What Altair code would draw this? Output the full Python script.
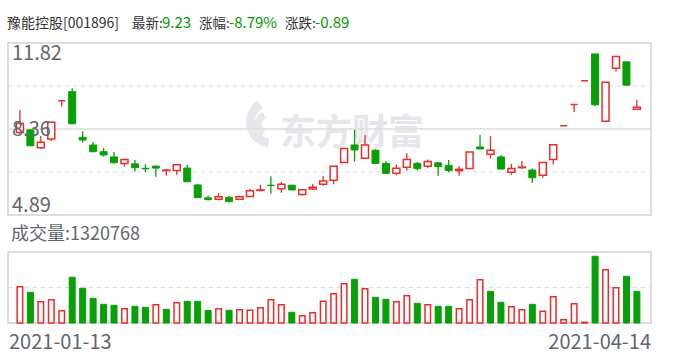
import altair as alt
import numpy as np
import pandas as pd

# ---------------- data ----------------
stock_name = "豫能控股"
stock_code = "001896"
date_labels = ["2021-01-13", "2021-04-14"]

opens = [8.21, 8.32, 7.60, 7.95, 9.49, 9.86, 8.02, 7.71, 7.44, 7.23,
         6.97, 6.95, 6.77, 6.86, 6.68, 6.68, 6.78, 6.10, 5.58, 5.52,
         5.60, 5.52, 5.64, 5.88, 6.09, 5.95, 6.09, 5.72, 5.94, 6.13,
         6.29, 7.01, 7.71, 7.18, 7.50, 6.97, 6.57, 6.81, 6.97, 6.85,
         6.99, 6.89, 6.68, 6.76, 7.63, 7.34, 7.23, 6.61, 6.80, 6.70,
         6.49, 7.13, 8.49, 9.34, 10.30, 11.38, 8.67, 10.80, 11.06, 9.15]
highs = [9.12, 8.32, 8.07, 8.65, 9.49, 10.00, 8.27, 7.83, 7.59, 7.43,
         7.13, 7.11, 6.93, 6.87, 6.73, 6.95, 6.91, 6.14, 5.68, 5.77,
         5.66, 5.67, 5.94, 6.11, 6.45, 6.22, 6.09, 5.93, 6.14, 6.46,
         6.86, 7.57, 8.32, 8.11, 7.54, 7.07, 6.93, 7.38, 7.03, 7.13,
         7.03, 7.11, 6.86, 7.43, 8.11, 8.07, 7.30, 6.95, 7.07, 6.76,
         7.02, 7.74, 8.49, 9.34, 10.30, 11.38, 10.24, 11.29, 11.06, 9.52]
lows = [8.15, 7.68, 7.55, 7.87, 9.25, 8.54, 7.80, 7.42, 7.24, 6.95,
        6.84, 6.64, 6.61, 6.43, 6.47, 6.51, 6.23, 5.58, 5.47, 5.48,
        5.39, 5.49, 5.64, 5.86, 5.75, 5.79, 5.89, 5.68, 5.93, 6.07,
        6.13, 7.01, 7.04, 7.17, 6.97, 6.53, 6.49, 6.68, 6.68, 6.77,
        6.47, 6.61, 6.47, 6.75, 7.54, 7.16, 6.74, 6.51, 6.74, 6.19,
        6.39, 6.92, 8.49, 9.04, 10.30, 9.28, 8.66, 10.66, 10.12, 9.14]
closes = [8.58, 7.68, 7.82, 8.63, 9.49, 8.57, 7.91, 7.44, 7.31, 7.00,
          7.13, 6.80, 6.75, 6.78, 6.70, 6.91, 6.23, 5.59, 5.51, 5.63,
          5.43, 5.63, 5.87, 5.90, 6.08, 6.13, 5.90, 5.91, 6.01, 6.26,
          6.85, 7.57, 7.51, 7.71, 6.97, 6.57, 6.77, 7.13, 6.76, 7.05,
          6.84, 6.68, 6.73, 7.43, 7.55, 7.50, 6.74, 6.76, 6.82, 6.39,
          7.01, 7.72, 8.49, 9.34, 10.30, 9.33, 10.24, 11.28, 10.12, 9.23]
volumes = [1512000, 1279000, 887000, 971000, 512000, 1904000, 1446000, 1029000, 779000, 737000,
           596000, 696000, 654000, 762000, 571000, 846000, 904000, 904000, 529000, 596000,
           529000, 554000, 529000, 637000, 971000, 762000, 446000, 304000, 429000, 904000,
           1221000, 1637000, 1821000, 1429000, 1071000, 987000, 887000, 1137000, 821000, 762000,
           696000, 696000, 596000, 971000, 1804000, 1321000, 862000, 679000, 554000, 779000,
           487000, 1096000, 137000, 804000, 29000, 2779000, 2221000, 1471000, 1946000, 1320768]

price_ticks = [11.82, 8.355, 4.89]
price_tick_labels = ["11.82", "8.36", "4.89"]
volume_axis_max = 2958000

# ---------------- styles ----------------
RED = "#ee2b2b"
GREEN = "#07a007"
GRID = "#dddddd"
FRAME = "#d2d2d6"
LABEL = "#5f6670"
WATER = "#e6e6eb"
FONT = "Noto Sans CJK SC"

df = pd.DataFrame({"i": np.arange(len(closes)), "open": opens, "high": highs,
                   "low": lows, "close": closes, "vol": volumes})
df["dir"] = np.where(df["close"] >= df["open"], "up", "down")
prev = df["close"].shift(1)
df["vdir"] = np.where(prev.isna() | (df["close"] >= prev), "up", "down")

one = pd.DataFrame({"a": [0]})

xs = alt.Scale(domain=[-0.66, 59.87], range=[8, 651], nice=False, zero=False)
ps = alt.Scale(domain=[price_ticks[2], price_ticks[0]], range=[215, 43], nice=False, zero=False)
vs = alt.Scale(domain=[0, volume_axis_max], range=[323, 252], nice=False)
X = alt.X("i:Q", scale=xs, axis=None)

layers = []

# watermark (logo swoosh + text)
layers.append(alt.Chart(one).mark_arc(radius=26, radius2=17, theta=3.3, theta2=5.7, color=WATER)
              .encode(x=alt.value(272), y=alt.value(122)))
layers.append(alt.Chart(one).mark_arc(radius=13, radius2=6, theta=3.6, theta2=5.9, color=WATER)
              .encode(x=alt.value(268), y=alt.value(124)))
layers.append(alt.Chart(one).mark_text(text="东方财富", font=FONT, fontSize=36, fontWeight="bold",
                                       color=WATER, align="left", baseline="alphabetic")
              .encode(x=alt.value(280), y=alt.value(145)))

# frames
for (y0, y1) in [(43, 215), (252, 323)]:
    layers.append(alt.Chart(one).mark_rect(fillOpacity=0, stroke=FRAME, strokeWidth=1.5)
                  .encode(x=alt.value(8), x2=alt.value(651), y=alt.value(y0), y2=alt.value(y1)))

# price grid
lo, hi = price_ticks[2], price_ticks[0]
grid_df = pd.DataFrame({"p": [lo + (hi - lo) * 0.25, lo + (hi - lo) * 0.75]})
layers.append(alt.Chart(grid_df).mark_rule(color=GRID, strokeWidth=1.2, strokeDash=[4, 4])
              .encode(y=alt.Y("p:Q", scale=ps, axis=None), x=alt.value(9), x2=alt.value(650)))
layers.append(alt.Chart(pd.DataFrame({"p": [(lo + hi) / 2]})).mark_rule(color=GRID, strokeWidth=1.5)
              .encode(y=alt.Y("p:Q", scale=ps, axis=None), x=alt.value(9), x2=alt.value(650)))
layers.append(alt.Chart(pd.DataFrame({"v": [volume_axis_max / 2]})).mark_rule(color=GRID, strokeWidth=1.2, strokeDash=[4, 4])
              .encode(y=alt.Y("v:Q", scale=vs, axis=None), x=alt.value(9), x2=alt.value(650)))

# wicks
layers.append(alt.Chart(df).mark_rule(strokeWidth=1.3)
              .encode(x=X, y=alt.Y("low:Q", scale=ps, axis=None), y2="high:Q",
                      color=alt.Color("dir:N", scale=alt.Scale(domain=["up", "down"], range=[RED, GREEN]), legend=None)))
# bodies
layers.append(alt.Chart(df).transform_filter("datum.dir == 'up'")
              .mark_bar(size=7, fill="white", stroke=RED, strokeWidth=1.5)
              .encode(x=X, y=alt.Y("open:Q", scale=ps, axis=None), y2="close:Q"))
layers.append(alt.Chart(df).transform_filter("datum.dir == 'down'")
              .mark_bar(size=7, fill=GREEN, stroke=GREEN, strokeWidth=1)
              .encode(x=X, y=alt.Y("open:Q", scale=ps, axis=None), y2="close:Q"))

# volume bars
layers.append(alt.Chart(df).transform_filter("datum.vdir == 'up'")
              .mark_bar(size=5.5, fill="white", stroke=RED, strokeWidth=1.5)
              .encode(x=X, y=alt.Y("vol:Q", scale=vs, axis=None)))
layers.append(alt.Chart(df).transform_filter("datum.vdir == 'down'")
              .mark_bar(size=6, fill=GREEN, stroke=GREEN, strokeWidth=1)
              .encode(x=X, y=alt.Y("vol:Q", scale=vs, axis=None)))

# price labels
tick_df = pd.DataFrame({"p": price_ticks, "t": price_tick_labels})
for k, (base, dy) in enumerate([("top", 1), ("middle", 1), ("bottom", 1)]):
    layers.append(alt.Chart(tick_df.iloc[[k]]).mark_text(font=FONT, fontSize=20, color=LABEL,
                                                         align="left", baseline=base, dy=dy)
                  .encode(x=alt.value(12), y=alt.Y("p:Q", scale=ps, axis=None), text="t:N"))

# volume label
layers.append(alt.Chart(one).mark_text(text="成交量:" + str(volumes[-1]), font=FONT, fontSize=18,
                                       color=LABEL, align="left", baseline="alphabetic")
              .encode(x=alt.value(11), y=alt.value(240)))

# date labels
layers.append(alt.Chart(one).mark_text(text=date_labels[0], font=FONT, fontSize=20, color=LABEL,
                                       align="left", baseline="alphabetic")
              .encode(x=alt.value(9), y=alt.value(349)))
layers.append(alt.Chart(one).mark_text(text=date_labels[1], font=FONT, fontSize=20, color=LABEL,
                                       align="right", baseline="alphabetic")
              .encode(x=alt.value(651), y=alt.value(349)))

# header
last, prev_close = closes[-1], closes[-2]
chg = last - prev_close
pct = chg / prev_close * 100
DARK = "#333333"
HGREEN = "#009900"
header = [(f"{stock_name}[{stock_code}]", 7, DARK, 14), ("最新:", 132, DARK, 13.5),
          (f"{last:.2f}", 162, HGREEN, 15),
          ("涨幅:", 199, DARK, 13.5), (f"{pct:.2f}%", 229, HGREEN, 15),
          ("涨跌:", 285, DARK, 13.5), (f"{chg:.2f}", 315, HGREEN, 15)]
for txt, xp, col, fs in header:
    layers.append(alt.Chart(one).mark_text(text=txt, font=FONT, fontSize=fs, color=col,
                                           align="left", baseline="alphabetic")
                  .encode(x=alt.value(xp), y=alt.value(28)))

chart = (alt.layer(*layers)
         .resolve_scale(y="independent", color="independent")
         .properties(width=688, height=360, autosize=alt.AutoSizeParams(type="none"), padding=0,
                     background="white")
         .configure_view(stroke=None))

chart.save("out.html", embed_options={"renderer": "svg", "actions": False})
